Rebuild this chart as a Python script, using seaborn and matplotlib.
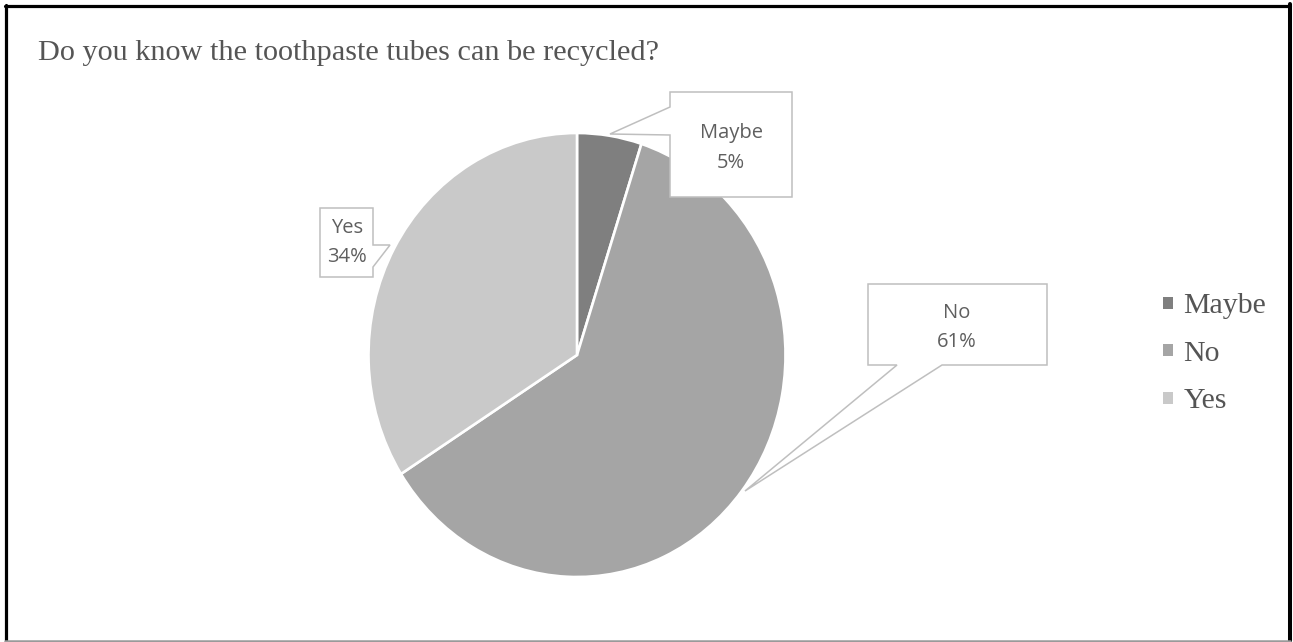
import matplotlib
matplotlib.use("Agg")
import matplotlib.pyplot as plt
import matplotlib.transforms as mtransforms
from matplotlib.patches import Polygon
from matplotlib.lines import Line2D
import seaborn as sns

# Survey answers
answers = ["Maybe", "No", "Yes"]
shares = [5, 61, 34]
slice_colors = ["#7f7f7f", "#a5a5a5", "#c9c9c9"]
title = "Do you know the toothpaste tubes can be recycled?"

sns.set_theme(style="white")
plt.rcParams["font.family"] = ["Liberation Serif", "DejaVu Serif"]

W, H = 1293, 642
fig = plt.figure(figsize=(W / 100, H / 100), dpi=100)
fig.patch.set_facecolor("white")

# pixel coordinates measured from the top-left corner
px = mtransforms.Affine2D().scale(1 / W, -1 / H).translate(0, 1) + fig.transFigure

# pie is slightly taller than wide
cx, cy, rx, ry = 577, 355, 208.5, 222
k = ry / rx
ax = fig.add_axes([0, 0, 1, 1])
wedges, _ = ax.pie(
    shares,
    colors=slice_colors,
    startangle=90,
    counterclock=False,
    center=(cx, (H - cy) / k),
    radius=rx,
    wedgeprops=dict(edgecolor="white", linewidth=1.9),
)
ax.set_aspect("auto")
ax.set_xlim(0, W)
ax.set_ylim(0, H / k)
ax.axis("off")

# callout boxes with pointers to their slices
label_font = ["Open Sans", "DejaVu Sans"]
callouts = {
    "Maybe": [(670, 92), (792, 92), (792, 197), (670, 197), (670, 135), (610, 134), (670, 107)],
    "No": [(868, 284), (1047, 284), (1047, 365), (942, 365), (745, 491), (897, 365), (868, 365)],
    "Yes": [(320, 208), (373, 208), (373, 245), (390, 245), (373, 267), (373, 277), (320, 277)],
}
text_pos = {"Maybe": (731, 133, 163), "No": (957, 313, 342), "Yes": (347, 228, 257)}
for name, share in zip(answers, shares):
    poly = Polygon(callouts[name], closed=True, facecolor="white", edgecolor="#bfbfbf",
                   linewidth=1.1, transform=px, zorder=5)
    fig.add_artist(poly)
    x, y1, y2 = text_pos[name]
    fig.text(x, y1, name, transform=px, ha="center", va="center", fontsize=14.5,
             color="#5f5f5f", family=label_font, zorder=6)
    fig.text(x, y2, f"{share}%", transform=px, ha="center", va="center", fontsize=14.5,
             color="#5f5f5f", family=label_font, zorder=6)

# title
fig.text(38, 60, title, transform=px, ha="left", va="baseline", fontsize=21.8,
         color="#555555")

# legend
leg = fig.legend(
    wedges, answers,
    loc="center left",
    bbox_to_anchor=(1163 / W, 1 - 354 / H),
    frameon=False,
    fontsize=21.5,
    handlelength=0.33,
    handleheight=0.25,
    handletextpad=0.35,
    labelspacing=0.72,
    borderpad=0,
    borderaxespad=0,
)
for t in leg.get_texts():
    t.set_color("#555555")
for h in leg.legend_handles:
    h.set_edgecolor("none")

# outer frame
fig.add_artist(Line2D([6, 6], [5, 641], transform=px, color="black", linewidth=2.3))
fig.add_artist(Line2D([5, 1290], [5.5, 5.5], transform=px, color="black", linewidth=2.3))
fig.add_artist(Line2D([1290, 1290], [4, 641], transform=px, color="black", linewidth=2.9))
fig.add_artist(Line2D([5, 1290], [640.5, 640.5], transform=px, color="#9a9a9a", linewidth=1.8))

fig.savefig("out.png", dpi=100, facecolor="white")
